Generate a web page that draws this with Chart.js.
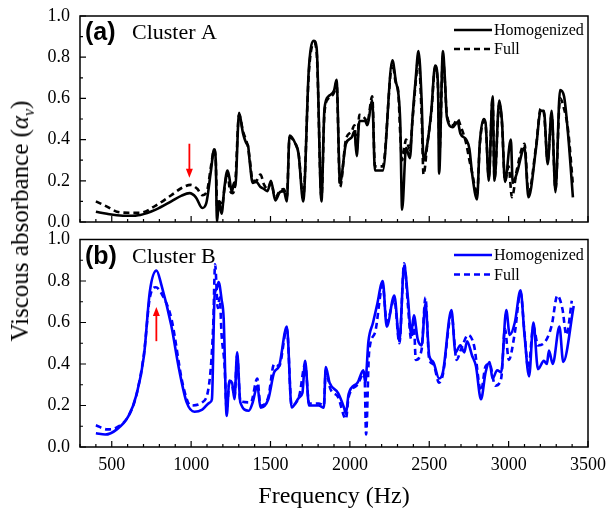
<!DOCTYPE html>
<html>
<head>
<meta charset="utf-8">
<script src="https://cdn.jsdelivr.net/npm/chart.js@4.4.1/dist/chart.umd.min.js"></script>
<style>
  html, body { margin: 0; padding: 0; background: #fff; }
  #wrap { position: relative; width: 609px; height: 512px; }
  #ctxA { position: absolute; left: 0; top: 0; }
  #ctxB { position: absolute; left: 0; top: 222px; }
  #ytitle {
    position: absolute; left: 22px; top: 221px;
    transform: translate(-50%, -50%) rotate(-90deg);
    font: 25px "Liberation Serif"; white-space: nowrap; color: #000;
  }
  #ytitle sub { font-size: 16px; }
</style>
</head>
<body>
<div id="wrap">
  <canvas id="ctxA" width="609" height="234"></canvas>
  <canvas id="ctxB" width="609" height="290"></canvas>
  <div id="ytitle">Viscous absorbance (<i>α</i><sub><i>v</i></sub>)</div>
</div>
<script>
// ---- data ----
const xTickValues = [500, 1000, 1500, 2000, 2500, 3000, 3500];
const yTickValues = [0, 0.2, 0.4, 0.6, 0.8, 1.0];

// (a) Cluster A
const freqA_hom = [400,470,532,606,680,777,875,940,990,1030,1070,1095,1125,1145,1155,1163,1175,1192,1210,1229,1240,1256,1270,1278,1302,1327,1350,1359,1368,1388,1410,1437,1460,1481,1503,1530,1559,1584,1603,1620,1657,1677,1706,1742,1774,1791,1821,1840,1865,1901,1916,1938,1975,2011,2029,2043,2060,2097,2109,2141,2158,2207,2268,2288,2317,2329,2354,2378,2395,2415,2432,2452,2464,2488,2513,2537,2555,2562,2586,2599,2611,2648,2679,2696,2733,2753,2770,2801,2818,2843,2855,2875,2899,2911,2941,2958,2977,3014,3026,3051,3100,3125,3173,3202,3222,3246,3271,3295,3324,3349,3374,3405];
const valA_hom  = [0.05,0.04,0.033,0.03,0.034,0.06,0.10,0.128,0.14,0.12,0.068,0.09,0.25,0.353,0.30,0.0,0.10,0.04,0.17,0.25,0.22,0.145,0.19,0.17,0.53,0.43,0.38,0.37,0.30,0.19,0.195,0.17,0.16,0.15,0.20,0.105,0.145,0.15,0.10,0.42,0.38,0.33,0.10,0.75,0.88,0.84,0.10,0.55,0.61,0.64,0.69,0.19,0.38,0.41,0.44,0.32,0.49,0.49,0.47,0.59,0.25,0.25,0.785,0.69,0.49,0.06,0.36,0.31,0.51,0.70,0.83,0.59,0.30,0.38,0.54,0.76,0.67,0.235,0.83,0.69,0.51,0.46,0.485,0.43,0.40,0.355,0.235,0.11,0.38,0.50,0.48,0.20,0.61,0.20,0.59,0.49,0.195,0.40,0.19,0.235,0.36,0.12,0.36,0.54,0.54,0.28,0.54,0.145,0.64,0.61,0.43,0.12];
const freqA_full = [400,470,532,606,680,777,875,940,997,1040,1070,1100,1125,1145,1155,1165,1178,1195,1210,1229,1245,1260,1278,1302,1327,1359,1370,1388,1410,1437,1460,1481,1503,1530,1559,1584,1603,1620,1657,1677,1706,1742,1774,1791,1821,1840,1865,1901,1916,1938,1975,2011,2029,2043,2060,2097,2109,2141,2158,2207,2268,2288,2305,2317,2329,2354,2378,2395,2415,2432,2452,2464,2488,2513,2537,2555,2565,2586,2599,2611,2648,2679,2696,2733,2753,2770,2801,2818,2843,2855,2875,2899,2911,2941,2958,2977,3000,3021,3051,3100,3125,3173,3202,3222,3246,3271,3295,3324,3349,3374,3405];
const valA_full  = [0.10,0.075,0.05,0.045,0.045,0.08,0.13,0.165,0.18,0.16,0.13,0.15,0.27,0.35,0.30,0.05,0.10,0.08,0.16,0.24,0.15,0.14,0.19,0.52,0.44,0.36,0.30,0.20,0.20,0.23,0.18,0.16,0.19,0.12,0.15,0.16,0.12,0.41,0.38,0.33,0.12,0.73,0.87,0.82,0.12,0.53,0.60,0.63,0.68,0.17,0.40,0.44,0.47,0.35,0.52,0.50,0.48,0.61,0.27,0.27,0.77,0.68,0.63,0.43,0.30,0.40,0.35,0.50,0.68,0.80,0.52,0.23,0.38,0.53,0.75,0.65,0.35,0.80,0.67,0.52,0.47,0.50,0.47,0.38,0.30,0.24,0.13,0.37,0.49,0.47,0.22,0.60,0.21,0.57,0.48,0.20,0.27,0.12,0.25,0.38,0.14,0.37,0.55,0.53,0.30,0.52,0.16,0.60,0.55,0.45,0.18];

// (b) Cluster B
const freqB_hom = [400,459,532,606,655,703,740,782,813,875,924,972,1021,1070,1119,1131,1148,1160,1173,1192,1205,1224,1241,1258,1273,1290,1310,1363,1388,1417,1437,1486,1523,1554,1603,1633,1682,1701,1718,1743,1804,1836,1848,1872,1926,1963,1975,1992,2048,2085,2097,2117,2146,2170,2207,2232,2280,2312,2342,2366,2386,2403,2427,2452,2476,2500,2525,2562,2586,2640,2665,2696,2721,2738,2770,2794,2826,2855,2880,2899,2928,2953,2985,3007,3039,3075,3100,3129,3156,3185,3222,3241,3254,3278,3320,3344,3410];
const valB_hom  = [0.066,0.06,0.085,0.15,0.25,0.44,0.75,0.85,0.78,0.585,0.375,0.215,0.17,0.18,0.215,0.23,0.73,0.76,0.795,0.71,0.62,0.15,0.32,0.31,0.23,0.456,0.215,0.175,0.215,0.295,0.19,0.23,0.36,0.39,0.58,0.19,0.24,0.26,0.415,0.20,0.20,0.19,0.385,0.31,0.26,0.19,0.16,0.255,0.31,0.37,0.31,0.51,0.60,0.68,0.80,0.58,0.73,0.51,0.875,0.715,0.545,0.635,0.52,0.49,0.69,0.44,0.41,0.33,0.36,0.66,0.456,0.49,0.456,0.51,0.44,0.39,0.23,0.36,0.41,0.33,0.37,0.36,0.66,0.54,0.60,0.755,0.54,0.34,0.60,0.375,0.415,0.40,0.465,0.40,0.58,0.41,0.68];
const freqB_full = [400,471,532,606,655,703,740,777,813,875,948,997,1070,1119,1139,1151,1168,1180,1192,1210,1224,1241,1258,1273,1290,1310,1376,1417,1437,1486,1523,1554,1603,1633,1682,1718,1743,1804,1836,1848,1877,1926,1975,1992,2048,2092,2102,2121,2158,2207,2232,2280,2312,2342,2366,2386,2403,2415,2452,2476,2500,2525,2562,2586,2640,2672,2700,2745,2782,2826,2855,2880,2916,2953,2977,3001,3039,3075,3100,3124,3156,3185,3222,3271,3307,3339,3364,3398];
const valB_full  = [0.105,0.085,0.095,0.15,0.25,0.45,0.72,0.77,0.74,0.62,0.30,0.20,0.215,0.34,0.585,0.88,0.67,0.72,0.54,0.40,0.18,0.31,0.30,0.24,0.44,0.22,0.215,0.33,0.20,0.24,0.40,0.39,0.57,0.20,0.25,0.40,0.21,0.21,0.20,0.37,0.28,0.24,0.135,0.24,0.30,0.36,0.06,0.456,0.55,0.78,0.60,0.71,0.50,0.885,0.68,0.52,0.60,0.42,0.47,0.72,0.42,0.40,0.31,0.35,0.64,0.42,0.47,0.54,0.49,0.27,0.39,0.40,0.295,0.33,0.57,0.42,0.55,0.745,0.55,0.375,0.58,0.49,0.50,0.585,0.73,0.665,0.54,0.705];

// red arrows (frequency, tail value, head value)
const arrowA = { freq: 989, tail: 0.38, head: 0.215 };
const arrowB = { freq: 781, tail: 0.51, head: 0.675 };

const pairs = (xs, ys) => xs.map((x, i) => ({ x: x, y: ys[i] }));

// frame + inward ticks, Origin style
const axisBox = {
  id: 'axisBox',
  afterDraw(chart) {
    const { ctx, chartArea: a, scales: { x, y } } = chart;
    ctx.save();
    ctx.strokeStyle = '#000';
    ctx.lineWidth = 1.2;
    ctx.beginPath();
    for (let f = 300; f <= 3500; f += 100) {
      const px = x.getPixelForValue(f);
      const len = f % 500 === 0 ? 6 : 3;
      ctx.moveTo(px, a.bottom);
      ctx.lineTo(px, a.bottom - len);
    }
    for (let k = 0; k <= 10; k++) {
      const py = y.getPixelForValue(k / 10);
      const len = k % 2 === 0 ? 6 : 3;
      ctx.moveTo(a.left, py);
      ctx.lineTo(a.left + len, py);
    }
    ctx.stroke();
    ctx.lineWidth = 1.5;
    ctx.strokeRect(a.left, a.top, a.right - a.left, a.bottom - a.top);
    ctx.restore();
  }
};

// panel tag, legend, arrow
const panelDecor = {
  id: 'panelDecor',
  afterDraw(chart, args, opts) {
    const { ctx, chartArea: a, scales: { x, y } } = chart;
    ctx.save();
    ctx.fillStyle = '#000';
    ctx.textBaseline = 'alphabetic';
    ctx.font = 'bold 25px "Liberation Sans"';
    ctx.fillText(opts.tag, 85, a.top + 24);
    ctx.font = '22px "Liberation Serif"';
    ctx.fillText(opts.name, 132, a.top + 23);

    chart.data.datasets.forEach((ds, i) => {
      const yy = a.top + opts.rows[i];
      ctx.strokeStyle = ds.borderColor;
      ctx.lineWidth = ds.borderWidth;
      ctx.setLineDash(ds.borderDash || []);
      ctx.beginPath();
      ctx.moveTo(454, yy);
      ctx.lineTo(492, yy);
      ctx.stroke();
      ctx.setLineDash([]);
      ctx.font = '16px "Liberation Serif"';
      ctx.textBaseline = 'middle';
      ctx.fillText(ds.label, 494, yy + 1);
    });

    const ar = opts.arrow;
    const ax = x.getPixelForValue(ar.freq);
    const y0 = y.getPixelForValue(ar.tail);
    const y1 = y.getPixelForValue(ar.head);
    const dir = y1 > y0 ? 1 : -1;
    ctx.strokeStyle = '#ff0000';
    ctx.fillStyle = '#ff0000';
    ctx.lineWidth = 1.8;
    ctx.beginPath();
    ctx.moveTo(ax, y0);
    ctx.lineTo(ax, y1 - dir * 6);
    ctx.stroke();
    ctx.beginPath();
    ctx.moveTo(ax, y1);
    ctx.lineTo(ax - 3.5, y1 - dir * 9);
    ctx.lineTo(ax + 3.5, y1 - dir * 9);
    ctx.closePath();
    ctx.fill();
    ctx.restore();
  }
};

function makePanel(el, color, homData, fullData, decor, showX) {
  return new Chart(el, {
    type: 'line',
    data: {
      datasets: [{
        label: 'Homogenized',
        data: homData,
        borderColor: color,
        borderWidth: 2.6,
        pointRadius: 0,
        cubicInterpolationMode: 'monotone'
      }, {
        label: 'Full',
        data: fullData,
        borderColor: color,
        borderWidth: 2.6,
        borderDash: [6, 4],
        pointRadius: 0,
        cubicInterpolationMode: 'monotone'
      }]
    },
    options: {
      responsive: false,
      animation: false,
      layout: { padding: showX ? { top: 17.5, right: 21, bottom: 0, left: 0 } : { top: 16, right: 21, bottom: 12, left: 0 } },
      plugins: {
        legend: { display: false },
        tooltip: { enabled: false },
        panelDecor: decor
      },
      scales: {
        x: {
          type: 'linear',
          min: 300,
          max: 3500,
          afterBuildTicks: s => { s.ticks = xTickValues.map(v => ({ value: v })); },
          afterFit: s => {
            s.height = showX ? 65 : 0;
            s.paddingLeft = 0; s.paddingRight = 0;
          },
          grid: { display: false, drawTicks: false },
          border: { display: false },
          ticks: {
            display: showX,
            padding: 7,
            color: '#000',
            maxRotation: 0,
            font: { family: 'Liberation Serif', size: 18 },
            callback: v => String(v)
          },
          title: {
            display: showX,
            text: 'Frequency (Hz)',
            color: '#000',
            padding: { top: 0, bottom: 1 },
            font: { family: 'Liberation Serif', size: 24 }
          }
        },
        y: {
          min: 0,
          max: 1,
          afterBuildTicks: s => { s.ticks = yTickValues.map(v => ({ value: v })); },
          afterFit: s => {
            s.width = 80;
            s.paddingTop = 0; s.paddingBottom = 0;
          },
          grid: { display: false, drawTicks: false },
          border: { display: false },
          ticks: {
            padding: 10,
            color: '#000',
            font: { family: 'Liberation Serif', size: 18 },
            callback: v => v.toFixed(1)
          }
        }
      }
    },
    plugins: [axisBox, panelDecor]
  });
}

const chartA = makePanel(document.getElementById('ctxA'), '#000000',
  pairs(freqA_hom, valA_hom), pairs(freqA_full, valA_full),
  { tag: '(a)', name: 'Cluster A', rows: [14, 33], arrow: arrowA }, false);

const chartB = makePanel(document.getElementById('ctxB'), '#0000ff',
  pairs(freqB_hom, valB_hom), pairs(freqB_full, valB_full),
  { tag: '(b)', name: 'Cluster B', rows: [15.5, 35], arrow: arrowB }, true);
</script>
</body>
</html>
